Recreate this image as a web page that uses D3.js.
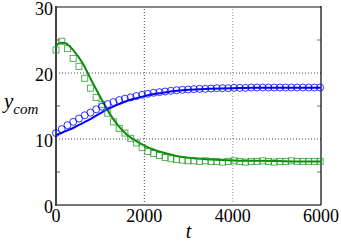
<!DOCTYPE html>
<html>
<head>
<meta charset="utf-8">
<script src="https://cdn.jsdelivr.net/npm/d3@7"></script>
<style>
  body { margin: 0; background: #fff; }
  svg { display: block; }
  text { font-family: "Times New Roman", Times, "Liberation Serif", "DejaVu Serif", "Noto Serif", serif; }
</style>
</head>
<body>
<div class="chart"></div>
<script>
// simulation curves (solid lines)
const lineT = [0, 100, 200, 400, 600, 800, 1000, 1200, 1400, 1600, 1800, 2000, 2250, 2500, 2750, 3000, 3500, 4000, 4500, 5000, 5500, 6000];
const blueLine = [10.6, 10.85, 11.15, 11.7, 12.4, 13.1, 13.9, 14.6, 15.2, 15.75, 16.15, 16.5, 16.85, 17.1, 17.3, 17.45, 17.6, 17.7, 17.75, 17.75, 17.75, 17.75];
const greenLine = [24.1, 24.6, 24.55, 23.4, 21.5, 18.9, 16.4, 14.0, 12.1, 10.7, 9.75, 9.0, 8.3, 7.8, 7.4, 7.15, 6.9, 6.75, 6.7, 6.65, 6.6, 6.6];

// sampled points (markers), every 130 time units
const markerT = d3.range(0, 6000, 130);
const blueCircles = [10.9, 11.5, 12.1, 12.6, 13.1, 13.6, 14.0, 14.5, 14.9, 15.3, 15.6, 15.9, 16.1, 16.3, 16.5, 16.7,
  16.85, 17.0, 17.1, 17.2, 17.3, 17.4, 17.45, 17.5, 17.55, 17.6, 17.6, 17.65, 17.7, 17.7, 17.7, 17.75, 17.75, 17.75,
  17.8, 17.8, 17.8, 17.8, 17.8, 17.8, 17.8, 17.8, 17.8, 17.8, 17.8, 17.8, 17.8];
const greenSquares = [23.5, 24.8, 23.7, 22.2, 21.0, 19.2, 17.7, 16.3, 15.2, 13.9, 12.6, 11.6, 10.9, 10.1, 9.4, 8.7,
  8.1, 7.8, 7.5, 7.2, 7.0, 6.9, 6.8, 6.7, 6.7, 6.6, 6.7, 6.6, 6.6, 6.5, 6.6, 6.7, 6.6, 6.5, 6.6, 6.6, 6.7, 6.6, 6.5,
  6.6, 6.6, 6.7, 6.6, 6.6, 6.6, 6.6, 6.6];

const xTicks = [0, 2000, 4000, 6000];
const yTicks = [0, 10, 20, 30];
const yMinor = [5, 15, 25];

const width = 341, height = 241;
const svg = d3.select('.chart').append('svg')
  .attr('width', width)
  .attr('height', height);

const x = d3.scaleLinear().domain([0, 6000]).range([56, 321]);
const y = d3.scaleLinear().domain([0, 30]).range([205, 7]);

// grid
svg.selectAll('.hgrid').data([10, 20]).enter().append('line')
  .attr('x1', x(0)).attr('x2', x(6000))
  .attr('y1', d => y(d)).attr('y2', d => y(d))
  .attr('stroke', '#444').attr('stroke-width', 1).attr('stroke-dasharray', '1,2');
svg.selectAll('.vgrid').data([2000, 4000]).enter().append('line')
  .attr('x1', d => x(d)).attr('x2', d => x(d))
  .attr('y1', y(0)).attr('y2', y(30))
  .attr('stroke', (d, i) => i ? '#999' : '#444').attr('stroke-width', 1).attr('stroke-dasharray', '1,2');

// minor ticks, inside on both sides
yMinor.forEach(v => {
  svg.append('line').attr('x1', x(0)).attr('x2', x(0) + 4)
    .attr('y1', y(v)).attr('y2', y(v)).attr('stroke', '#555');
  svg.append('line').attr('x1', x(6000) - 4).attr('x2', x(6000))
    .attr('y1', y(v)).attr('y2', y(v)).attr('stroke', '#777');
});

// frame
svg.append('line').attr('x1', x(0)).attr('x2', x(6000)).attr('y1', y(30)).attr('y2', y(30))
  .attr('stroke', '#888').attr('stroke-width', 2);
svg.append('line').attr('x1', x(0)).attr('x2', x(6000)).attr('y1', y(0)).attr('y2', y(0))
  .attr('stroke', '#777').attr('stroke-width', 2);
svg.append('line').attr('x1', x(0)).attr('x2', x(0)).attr('y1', y(0) + 1).attr('y2', y(30) - 1)
  .attr('stroke', '#444').attr('stroke-width', 2);
svg.append('line').attr('x1', x(6000)).attr('x2', x(6000)).attr('y1', y(0)).attr('y2', y(30) - 1)
  .attr('stroke', '#000').attr('stroke-width', 1.2);

// lines
const line = d3.line().x(d => x(d[0])).y(d => y(d[1])).curve(d3.curveMonotoneX);
svg.append('path').datum(lineT.map((t, i) => [t, greenLine[i]]))
  .attr('d', line).attr('fill', 'none').attr('stroke', '#0a8a0a').attr('stroke-width', 2);
svg.append('path').datum(lineT.map((t, i) => [t, blueLine[i]]))
  .attr('d', line).attr('fill', 'none').attr('stroke', '#0000ff').attr('stroke-width', 2);

// markers
svg.selectAll('.sq').data(markerT).enter().append('rect')
  .attr('x', d => x(d) - 3).attr('y', (d, i) => y(greenSquares[i]) - 3)
  .attr('width', 6).attr('height', 6)
  .attr('fill', 'none').attr('stroke', '#1f9a1f').attr('stroke-opacity', 0.75).attr('stroke-width', 1);
svg.selectAll('.ci').data(markerT).enter().append('circle')
  .attr('cx', d => x(d)).attr('cy', (d, i) => y(blueCircles[i])).attr('r', 3.5)
  .attr('fill', 'none').attr('stroke', '#0000ff').attr('stroke-opacity', 0.8).attr('stroke-width', 1);

// tick labels
svg.selectAll('.xl').data(xTicks).enter().append('text')
  .attr('x', d => x(d)).attr('y', 222)
  .attr('text-anchor', 'middle')
  .attr('font-size', 18)
  .text(d => d);
svg.selectAll('.yl').data(yTicks).enter().append('text')
  .attr('x', 53).attr('y', d => y(d) + 7.5)
  .attr('text-anchor', 'end')
  .attr('font-size', 18)
  .text(d => d);

// axis titles
svg.append('text').attr('x', x(3000)).attr('y', 238)
  .attr('text-anchor', 'middle')
  .attr('font-style', 'italic').attr('font-size', 20)
  .text('t');
const yl = svg.append('text').attr('x', 4).attr('y', 108)
  .attr('font-style', 'italic').attr('font-size', 21);
yl.append('tspan').text('y');
yl.append('tspan').attr('dy', 6).attr('font-size', 15).text('com');
</script>
</body>
</html>
